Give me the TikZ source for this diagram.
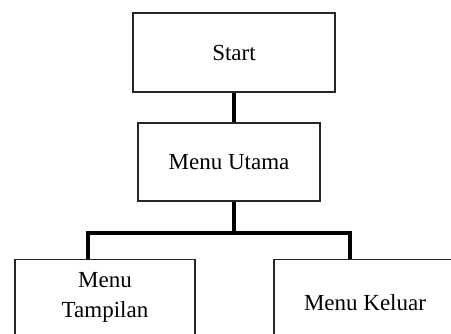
\documentclass[tikz,border=0pt]{standalone}
\usepackage{fontspec}
\setmainfont{Liberation Serif}
\begin{document}
\begin{tikzpicture}[x=1pt,y=-1pt,
  box/.style={draw=black!85, line width=1.4pt, fill=white, inner sep=0pt, align=center,
    font=\fontsize{23}{30}\selectfont},
  conn/.style={line width=4pt, black}]
\useasboundingbox (0,0) rectangle (451,334);
\clip (0,0) rectangle (451,334);
\node[box, minimum width=202pt, minimum height=79pt] (start) at (234,52.5) {Start};
\node[box, minimum width=182pt, minimum height=78pt] (utama) at (229,162) {Menu Utama};
\node[box, minimum width=180pt, minimum height=76pt, anchor=north] (tampil) at (105,259) {Menu\\Tampilan};
\node[box, minimum width=182pt, minimum height=86pt, anchor=north] (keluar) at (365,259) {Menu Keluar};
\coordinate (bus) at (234,233);
\coordinate (busL) at (88,233);
\coordinate (busR) at (350,233);
\draw[conn] (start.south) -- (start.south |- utama.north);
\draw[conn] (utama.south -| bus) -- (bus);
\draw[conn, line join=miter] (busL |- tampil.north) -- (busL) -- (busR) -- (busR |- keluar.north);
\end{tikzpicture}
\end{document}
